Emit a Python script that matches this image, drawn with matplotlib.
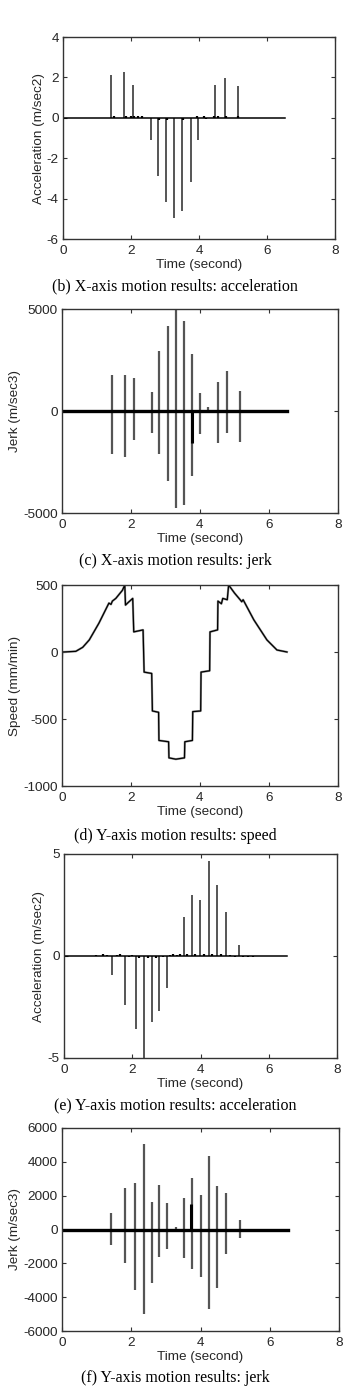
import numpy as np
import matplotlib
matplotlib.use('Agg')
import matplotlib.pyplot as plt

# --------------------------------------------------------------------------------------------#
# Data.
# --------------------------------------------------------------------------------------------#
# X-axis acceleration spikes (m/sec2)
xAccT = [1.42, 1.79, 2.06, 2.58, 2.80, 3.04, 3.27, 3.51, 3.76, 3.97, 4.48, 4.76, 5.14]
xAccV = [2.13, 2.26, 1.60, -1.09, -2.90, -4.16, -4.98, -4.59, -3.20, -1.09, 1.60, 1.96, 1.55]
xAccBlipT = [1.50, 1.85, 2.00, 2.10, 2.22, 2.32, 2.83, 3.07, 3.53, 3.95, 4.15, 4.22, 4.45, 4.55, 4.80, 5.15]
xAccBlipV = [0.08, 0.08, 0.08, 0.10, 0.08, 0.08, -0.12, -0.12, -0.10, 0.08, 0.08, -0.06, 0.08, 0.08, 0.10, 0.10]

# X-axis jerk spikes (m/sec3): upper and lower lobes
xJerkT = [1.44, 1.82, 2.10, 2.62, 2.82, 3.07, 3.31, 3.54, 3.78, 3.99, 4.51, 4.79, 5.16]
xJerkUp = [1770, 1770, 1610, 950, 2920, 4150, 5000, 4390, 2790, 870, 1410, 1970, 1000]
xJerkDn = [-2130, -2250, -1430, -1070, -2130, -3440, -4750, -4620, -3200, -1130, -1590, -1070, -1540]
xJerkDarkT = [3.76]
xJerkDarkV = [-1590]
xJerkBumpT = [4.24]
xJerkBumpV = [180]

# Y-axis speed (mm/min)
speedT = [0.00, 0.01, 0.05, 0.40, 0.60, 0.79, 1.07, 1.36, 1.42, 1.46, 1.56, 1.75, 1.82, 1.84, 1.92, 2.05,
          2.08, 2.35, 2.38, 2.60, 2.62, 2.80, 2.81, 3.09, 3.10, 3.30, 3.55, 3.56, 3.78, 3.79, 4.02, 4.03,
          4.28, 4.29, 4.51, 4.52, 4.62, 4.66, 4.79, 4.83, 5.00, 5.17, 5.21, 5.25, 5.56, 5.94, 6.23, 6.52]
speedV = [-50, 0, 0, 5, 35, 90, 215, 365, 355, 380, 400, 460, 500, 350, 370, 400,
          150, 165, -150, -160, -440, -450, -660, -670, -790, -800, -790, -670, -660, -445, -440, -150,
          -140, 150, 165, 380, 360, 400, 390, 500, 440, 388, 375, 390, 240, 90, 15, 0]

# Y-axis acceleration spikes (m/sec2)
yAccT = [1.42, 1.80, 2.10, 2.34, 2.58, 2.79, 3.03, 3.52, 3.75, 3.99, 4.25, 4.48, 4.76, 5.13]
yAccV = [-0.93, -2.41, -3.59, -5.00, -3.23, -2.70, -1.59, 1.89, 3.00, 2.75, 4.67, 3.46, 2.18, 0.54]
yAccBlipT = [0.95, 1.15, 1.25, 1.55, 1.65, 1.90, 2.00, 2.20, 2.45, 2.70, 2.90, 3.10, 3.20, 3.30, 3.40,
             3.60, 3.85, 4.10, 4.35, 4.60, 4.85, 5.00, 5.25, 5.40, 5.55]
yAccBlipV = [0.06, 0.08, 0.06, 0.06, 0.08, -0.06, 0.06, -0.08, -0.10, -0.08, -0.06, 0.06, 0.08, 0.06, 0.08,
             0.10, 0.10, 0.08, 0.10, 0.08, 0.06, -0.06, -0.06, -0.06, -0.06]

# Y-axis jerk spikes (m/sec3)
yJerkT = [1.42, 1.81, 2.12, 2.36, 2.60, 2.81, 3.04, 3.52, 3.76, 4.00, 4.24, 4.49, 4.75, 5.14]
yJerkUp = [960, 2470, 2770, 5050, 1610, 2620, 1550, 1890, 3030, 2040, 4320, 2600, 2180, 560]
yJerkDn = [-920, -2000, -3590, -4970, -3190, -1610, -1140, -1670, -2360, -2800, -4670, -3430, -1470, -480]
yJerkDarkT = [3.74]
yJerkDarkV = [1530]
yJerkBumpT = [3.28]
yJerkBumpV = [150]

tEnd = 6.53

# Text for each panel.
yLabels = ['Acceleration (m/sec2)', 'Jerk (m/sec3)', 'Speed (mm/min)', 'Acceleration (m/sec2)', 'Jerk (m/sec3)']
captions = ['(b) X-axis motion results: acceleration', '(c) X-axis motion results: jerk',
            '(d) Y-axis motion results: speed', '(e) Y-axis motion results: acceleration',
            '(f) Y-axis motion results: jerk']
yTicks = [[-6, -4, -2, 0, 2, 4], [-5000, 0, 5000], [-1000, -500, 0, 500], [-5, 0, 5],
          [-6000, -4000, -2000, 0, 2000, 4000, 6000]]
xTicks = [0, 2, 4, 6, 8]

# --------------------------------------------------------------------------------------------#
# Figure and axes layout (pixel boxes: left, right, top, bottom).
# --------------------------------------------------------------------------------------------#
plt.rcParams['axes.unicode_minus'] = False
W, H = 353, 1391
fig = plt.figure(figsize=(W / 100, H / 100), dpi=100)

Boxes = [(63, 335, 37, 239), (62, 338, 309, 513), (62, 338, 585, 786), (64, 337, 854, 1058), (62, 339, 1128, 1331)]
YLabelX = [39, 15, 15, 39, 15]
CaptionY = [286, 561, 836, 1105, 1378]

SansFont = 'Liberation Sans'
SerifFont = 'Liberation Serif'
SansSize = 9.7
TextColor = '#262626'
SpikeColor = '#555555'

axes = []
for i, (l, r, t, b) in enumerate(Boxes):
    ax = fig.add_axes([l / W, 1 - b / H, (r - l) / W, (b - t) / H])
    axes.append(ax)

# Panel 1: X acceleration
ax = axes[0]
ax.vlines(xAccT, 0, xAccV, color=SpikeColor, lw=1.4)
ax.vlines(xAccBlipT, 0, xAccBlipV, color='black', lw=1.6)
ax.plot([0, tEnd], [0, 0], color='black', lw=1.1)
ax.set_ylim(-6, 4)

# Panel 2: X jerk
ax = axes[1]
ax.vlines(xJerkT, xJerkDn, xJerkUp, color=SpikeColor, lw=1.6)
ax.vlines(xJerkDarkT, 0, xJerkDarkV, color='black', lw=2.2)
ax.vlines(xJerkBumpT, 0, xJerkBumpV, color=SpikeColor, lw=1.6)
ax.plot([0, tEnd], [0, 0], color='black', lw=2.4)
ax.set_ylim(-5000, 5000)

# Panel 3: Y speed
ax = axes[2]
ax.plot(speedT, speedV, color='#999999', lw=1.6)
ax.plot(speedT, speedV, color='black', lw=0.9)
ax.set_ylim(-1000, 500)

# Panel 4: Y acceleration
ax = axes[3]
ax.vlines(yAccT, 0, yAccV, color=SpikeColor, lw=1.4)
ax.vlines(yAccBlipT, 0, yAccBlipV, color='black', lw=1.6)
ax.plot([0, tEnd], [0, 0], color='black', lw=1.1)
ax.set_ylim(-5, 5)

# Panel 5: Y jerk
ax = axes[4]
ax.vlines(yJerkT, yJerkDn, yJerkUp, color=SpikeColor, lw=1.6)
ax.vlines(yJerkDarkT, 0, yJerkDarkV, color='black', lw=2.2)
ax.vlines(yJerkBumpT, 0, yJerkBumpV, color=SpikeColor, lw=1.6)
ax.plot([0, tEnd], [0, 0], color='black', lw=2.4)
ax.set_ylim(-6000, 6000)

# Common styling.
for i, ax in enumerate(axes):
    l, r, t, b = Boxes[i]
    ax.set_xlim(0, 8)
    ax.set_xticks(xTicks)
    ax.set_yticks(yTicks[i])
    ax.tick_params(direction='in', length=3, width=0.8, top=True, right=True,
                   labelsize=SansSize, labelcolor=TextColor, color='#333333')
    ax.tick_params(axis='x', pad=4)
    ax.tick_params(axis='y', pad=3)
    for lab in ax.get_xticklabels() + ax.get_yticklabels():
        lab.set_fontname(SansFont)
    for sp in ax.spines.values():
        sp.set_linewidth(1.0)
        sp.set_color('#333333')
    ax.set_xlabel('Time (second)', fontsize=SansSize, fontname=SansFont, color=TextColor, labelpad=2)
    fig.text(YLabelX[i] / W, 1 - ((t + b) / 2) / H, yLabels[i], rotation=90, ha='center', va='center',
             fontsize=SansSize, fontname=SansFont, color=TextColor)
    fig.text(175 / W, 1 - CaptionY[i] / H, captions[i], ha='center', va='center',
             fontsize=11.5, fontname=SerifFont, color='black')

fig.savefig('out.png', dpi=100)
